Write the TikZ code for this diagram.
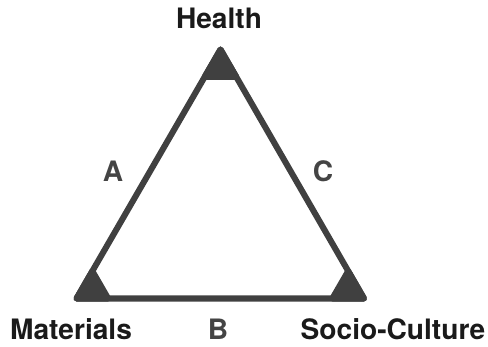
\documentclass[tikz,border=0pt]{standalone}
\usepackage{fontspec}
\setmainfont{TeX Gyre Heros}
\usetikzlibrary{calc}
\definecolor{edgegray}{HTML}{404040}
\definecolor{labelblack}{HTML}{1A1A1A}
\definecolor{sidegray}{HTML}{444444}
\begin{document}
\begin{tikzpicture}[x=0.025cm,y=-0.025cm,
        side/.style={draw=edgegray,line width=4.3pt,line join=round},
        cornerfill/.style={fill=edgegray,draw=edgegray,line width=4.3pt,line join=round},
        vertexlabel/.style={text=labelblack,font=\bfseries\fontsize{20}{24}\selectfont},
        sidelabel/.style={text=sidegray,font=\bfseries\fontsize{20}{24}\selectfont}]
        \useasboundingbox (0,0) rectangle (488,347);
        %% Corners
        \coordinate (health) at (220.5,49.5);
        \coordinate (materials) at (76.5,298.5);
        \coordinate (socio) at (364,298.5);
        %% Triangle
        \draw[side] (health) -- (materials) -- (socio) -- cycle;
        %% Filled corner tips
        \foreach \c/\a/\b in {health/materials/socio,materials/socio/health,socio/health/materials}
            \filldraw[cornerfill] (\c) -- ($(\c)!0.11!(\a)$) -- ($(\c)!0.11!(\b)$) -- cycle;
        %% Labels
        \node[vertexlabel] (healthlabel) at (219,18) {Health};
        \node[vertexlabel] (materialslabel) at (71,329) {Materials};
        \node[vertexlabel] (sociolabel) at (393,329) {Socio-Culture};
        \node[sidelabel] (alabel) at (113,171) {A};
        \node[sidelabel] (blabel) at (218,329) {B};
        \node[sidelabel] (clabel) at (323,171) {C};
    \end{tikzpicture}
\end{document}
